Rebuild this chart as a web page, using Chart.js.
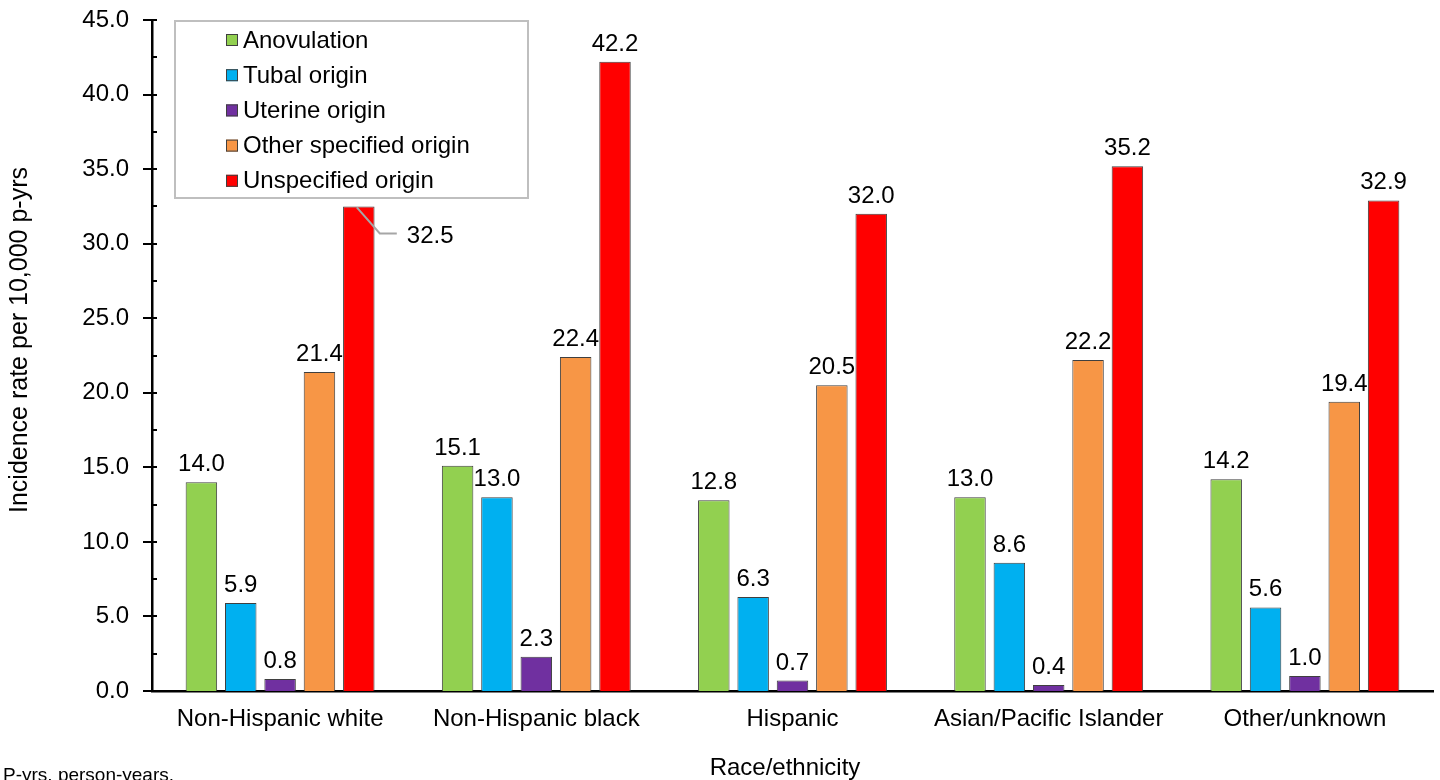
<!DOCTYPE html>
<html>
<head>
<meta charset="utf-8">
<title>Incidence rate by race/ethnicity</title>
<script src="https://cdn.jsdelivr.net/npm/chart.js@4.4.1/dist/chart.umd.min.js"></script>
<style>
  html, body { margin: 0; padding: 0; background: #ffffff; }
  #wrap { width: 1440px; height: 780px; position: relative; }
  canvas { display: block; }
</style>
</head>
<body>
<div id="wrap"><canvas id="chart" width="1440" height="780"></canvas></div>
<script>
// Race/ethnicity groups on the x axis
const categories = [
  'Non-Hispanic white',
  'Non-Hispanic black',
  'Hispanic',
  'Asian/Pacific Islander',
  'Other/unknown'
];

// Series names, in legend order
const seriesNames = [
  'Anovulation',
  'Tubal origin',
  'Uterine origin',
  'Other specified origin',
  'Unspecified origin'
];

// Incidence rate per 10,000 person-years, one array per series
const anovulation  = [14.0, 15.1, 12.8, 13.0, 14.2];
const tubalOrigin  = [5.9, 13.0, 6.3, 8.6, 5.6];
const uterineOrigin = [0.8, 2.3, 0.7, 0.4, 1.0];
const otherSpecified = [21.4, 22.4, 20.5, 22.2, 19.4];
const unspecified  = [32.5, 42.2, 32.0, 35.2, 32.9];

// Y axis tick values
const yTicks = [0, 5, 10, 15, 20, 25, 30, 35, 40, 45];

const seriesValues = [anovulation, tubalOrigin, uterineOrigin, otherSpecified, unspecified];
const seriesColors = ['#92D050', '#00B0F0', '#7030A0', '#F79646', '#FF0000'];

const FONT = '"Liberation Sans", Arial, Helvetica, sans-serif';

// One value label is moved out from under the legend and tied back with a leader line
const calloutLabels = [{ dataset: 4, index: 0, dx: 38, dy: 27 }];

const datasets = seriesNames.map((name, i) => ({
  label: name,
  data: seriesValues[i],
  backgroundColor: seriesColors[i],
  borderColor: '#3f3f3f',
  borderWidth: 1,
  borderSkipped: 'bottom',
  categoryPercentage: 0.768,
  barPercentage: 0.8
}));

// Tick marks on the value axis: major ticks cross the axis, minor ones point inward
const axisTicksPlugin = {
  id: 'axisTicks',
  afterDraw(chart) {
    const ctx = chart.ctx;
    const y = chart.scales.y;
    const x0 = chart.chartArea.left;
    ctx.save();
    ctx.strokeStyle = '#000';
    ctx.lineWidth = 2;
    for (let v = 0; v <= 45 + 1e-9; v += 2.5) {
      const py = Math.round(y.getPixelForValue(v));
      const major = Math.abs(v % 5) < 1e-9;
      ctx.beginPath();
      ctx.moveTo(major ? x0 - 9 : x0, py);
      ctx.lineTo(x0 + 5, py);
      ctx.stroke();
    }
    ctx.restore();
  }
};

// Value labels above each bar
const valueLabelsPlugin = {
  id: 'valueLabels',
  afterDatasetsDraw(chart) {
    const ctx = chart.ctx;
    ctx.save();
    ctx.font = '24px ' + FONT;
    ctx.fillStyle = '#000';
    chart.data.datasets.forEach((ds, di) => {
      const meta = chart.getDatasetMeta(di);
      meta.data.forEach((bar, idx) => {
        const text = ds.data[idx].toFixed(1);
        const call = calloutLabels.find(c => c.dataset === di && c.index === idx);
        if (call) {
          const sx = bar.x - 2, sy = bar.y + 1;
          const ex = bar.x + call.dx, ey = bar.y + call.dy;
          ctx.save();
          ctx.strokeStyle = '#a6a6a6';
          ctx.lineWidth = 2;
          ctx.beginPath();
          ctx.moveTo(sx, sy);
          ctx.lineTo(ex - 17, ey);
          ctx.lineTo(ex, ey);
          ctx.stroke();
          ctx.restore();
          ctx.textAlign = 'left';
          ctx.textBaseline = 'middle';
          ctx.fillText(text, ex + 10, ey + 3);
        } else {
          ctx.textAlign = 'center';
          ctx.textBaseline = 'alphabetic';
          ctx.fillText(text, bar.x, bar.y - 11);
        }
      });
    });
    ctx.restore();
  }
};

// Boxed legend drawn inside the plot area, top left
const insetLegendPlugin = {
  id: 'insetLegend',
  afterDraw(chart) {
    const ctx = chart.ctx;
    const left = 175, top = 21, right = 528, bottom = 198;
    ctx.save();
    ctx.fillStyle = '#fff';
    ctx.fillRect(left, top, right - left, bottom - top);
    ctx.strokeStyle = '#bfbfbf';
    ctx.lineWidth = 2;
    ctx.strokeRect(left, top, right - left, bottom - top);
    ctx.font = '24px ' + FONT;
    ctx.textBaseline = 'middle';
    ctx.textAlign = 'left';
    chart.data.datasets.forEach((ds, i) => {
      const cy = 40 + i * 35.2;
      ctx.fillStyle = ds.backgroundColor;
      ctx.fillRect(226, cy - 6, 12, 12);
      ctx.strokeStyle = '#3f3f3f';
      ctx.lineWidth = 1;
      ctx.strokeRect(226.5, cy - 5.5, 11, 11);
      ctx.fillStyle = '#000';
      ctx.fillText(ds.label, 243, cy + 1);
    });
    ctx.restore();
  }
};

// Axis titles and footnote
const titlesPlugin = {
  id: 'titles',
  afterDraw(chart) {
    const ctx = chart.ctx;
    ctx.save();
    ctx.fillStyle = '#000';
    ctx.textAlign = 'center';
    ctx.textBaseline = 'middle';
    ctx.font = '24px ' + FONT;
    ctx.fillText('Race/ethnicity', 785, 768);
    ctx.save();
    ctx.translate(20, 340);
    ctx.rotate(-Math.PI / 2);
    ctx.font = '25px ' + FONT;
    ctx.fillText('Incidence rate per 10,000 p-yrs', 0, 0);
    ctx.restore();
    ctx.font = '19px ' + FONT;
    ctx.textAlign = 'left';
    ctx.textBaseline = 'alphabetic';
    ctx.fillText('P-yrs, person-years.', 3, 781);
    ctx.restore();
  }
};

new Chart(document.getElementById('chart'), {
  type: 'bar',
  data: { labels: categories, datasets },
  options: {
    responsive: false,
    animation: false,
    devicePixelRatio: 1,
    layout: { padding: { left: 0, right: 7, top: 20, bottom: 0 } },
    plugins: {
      legend: { display: false },
      tooltip: { enabled: false }
    },
    scales: {
      x: {
        grid: { display: false, drawTicks: false },
        border: { display: true, color: '#000', width: 2.5 },
        ticks: { color: '#000', font: { family: FONT, size: 24 }, padding: 14, maxRotation: 0, autoSkip: false },
        afterFit(scale) {
          scale.height = 89;
          scale.paddingLeft = 0;
          scale.paddingRight = 0;
        }
      },
      y: {
        min: 0,
        max: 45,
        afterBuildTicks(scale) { scale.ticks = yTicks.map(v => ({ value: v })); },
        grid: { display: false, drawTicks: false },
        border: { display: true, color: '#000', width: 2.5 },
        ticks: {
          color: '#000',
          font: { family: FONT, size: 24 },
          padding: 23,
          callback: v => Number(v).toFixed(1)
        },
        afterFit(scale) {
          scale.width = 152;
          scale.paddingTop = 0;
          scale.paddingBottom = 0;
        }
      }
    }
  },
  plugins: [axisTicksPlugin, valueLabelsPlugin, insetLegendPlugin, titlesPlugin]
});
</script>
</body>
</html>
